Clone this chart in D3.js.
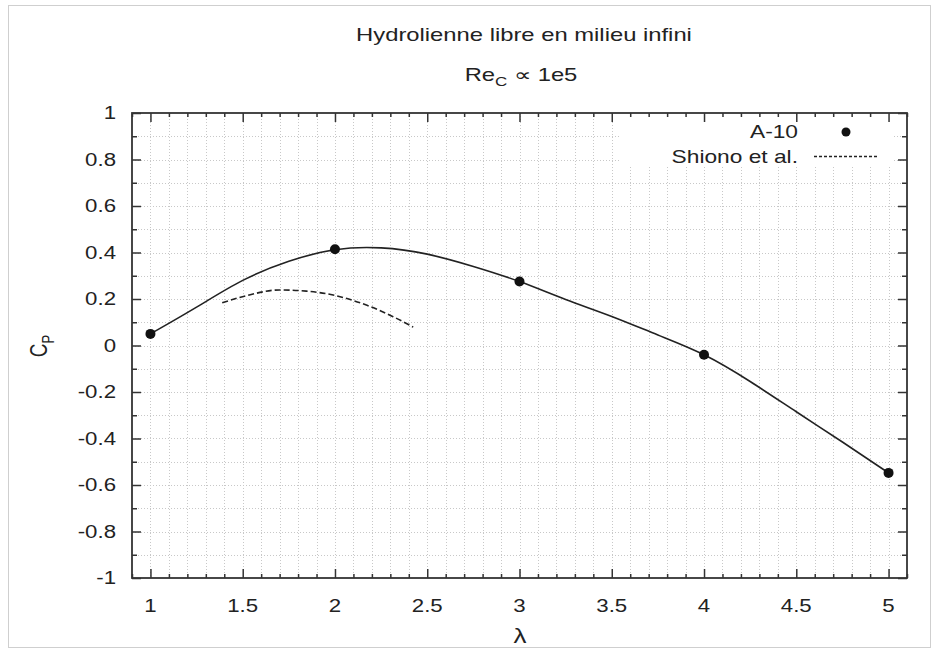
<!DOCTYPE html>
<html><head><meta charset="utf-8">
<script src="https://cdn.jsdelivr.net/npm/d3@7"></script>
<style>body{margin:0;background:#fff}svg text{font-family:"Liberation Sans",Arial,sans-serif;fill:#222}</style>
</head><body>
<script>
// ---- data ----
const titleText = "Hydrolienne libre en milieu infini";
const seriesNames = ["A-10", "Shiono et al."];
const a10PointsX = [1, 2, 3, 4, 5];
const a10PointsY = [0.05, 0.414, 0.275, -0.04, -0.548];
const a10CurveX = [1.0, 1.25, 1.5, 1.75, 2.0, 2.25, 2.5, 2.75, 3.0, 3.25, 3.5, 3.75, 4.0, 4.25, 4.5, 4.75, 5.0];
const a10CurveY = [0.05, 0.165, 0.28, 0.362, 0.412, 0.42, 0.393, 0.34, 0.275, 0.198, 0.125, 0.045, -0.04, -0.155, -0.285, -0.415, -0.548];
const shionoX = [1.389, 1.519, 1.70, 1.845, 1.99, 2.17, 2.315, 2.424];
const shionoY = [0.184, 0.214, 0.239, 0.234, 0.217, 0.174, 0.124, 0.079];
const xTickLabels = ["1", "1.5", "2", "2.5", "3", "3.5", "4", "4.5", "5"];
const yTickLabels = ["-1", "-0.8", "-0.6", "-0.4", "-0.2", "0", "0.2", "0.4", "0.6", "0.8", "1"];

const W = 938, H = 653;
const L = 132, R = 907, T = 113, B = 578;
const svg = d3.select("body").append("svg").attr("width", W).attr("height", H);

function txt(parent, px, py, str, size, anchor, sx) {
  return parent.append("text")
    .attr("transform", `translate(${px},${py}) scale(${sx},1)`)
    .attr("text-anchor", anchor).attr("font-size", size).text(str);
}

// outer frame
svg.append("rect").attr("x", 8.5).attr("y", 5.5).attr("width", 922).attr("height", 642)
  .attr("fill", "#fff").attr("stroke", "#cfcfcf").attr("stroke-width", 1);

const x = d3.scaleLinear().domain([0.9, 5.1]).range([L, R]);
const y = d3.scaleLinear().domain([-1, 1]).range([B, T]);

const minorX = d3.range(9, 52).map(v => v / 10);
const minorY = d3.range(-10, 11).map(v => v / 10);
const majorX = xTickLabels.map(Number);
const majorY = yTickLabels.map(Number);

// grid
const grid = svg.append("g").attr("stroke", "#c8c8c8").attr("stroke-width", 1).attr("stroke-dasharray", "1,2");
minorX.filter(v => v > 0.95 && v < 5.05).forEach(v => {
  grid.append("line").attr("x1", Math.round(x(v)) + 0.5).attr("x2", Math.round(x(v)) + 0.5).attr("y1", T).attr("y2", B);
});
minorY.filter(v => v > -0.95 && v < 0.95).forEach(v => {
  grid.append("line").attr("y1", Math.round(y(v)) + 0.5).attr("y2", Math.round(y(v)) + 0.5).attr("x1", L).attr("x2", R);
});

// legend background
svg.append("rect").attr("x", 620).attr("y", T + 1).attr("width", 273).attr("height", 53).attr("fill", "#fff");

// axes via d3 axis (ticks inward)
function isMajor(v, arr) { return arr.some(m => Math.abs(m - v) < 1e-6); }
const gB = svg.append("g").attr("transform", `translate(0,${B})`)
  .call(d3.axisBottom(x).tickValues(minorX).tickSizeInner(0).tickSizeOuter(0).tickFormat(""));
const gT = svg.append("g").attr("transform", `translate(0,${T})`)
  .call(d3.axisTop(x).tickValues(minorX).tickSizeInner(0).tickSizeOuter(0).tickFormat(""));
const gL = svg.append("g").attr("transform", `translate(${L},0)`)
  .call(d3.axisLeft(y).tickValues(minorY).tickSizeInner(0).tickSizeOuter(0).tickFormat(""));
const gR = svg.append("g").attr("transform", `translate(${R},0)`)
  .call(d3.axisRight(y).tickValues(minorY).tickSizeInner(0).tickSizeOuter(0).tickFormat(""));
[gB, gT, gL, gR].forEach(g => g.select(".domain").remove());
gB.selectAll(".tick line").attr("y2", d => -(isMajor(d, majorX) ? 9 : 4)).attr("stroke", "#333").attr("stroke-width", 1.5);
gT.selectAll(".tick line").attr("y2", d => (isMajor(d, majorX) ? 9 : 4)).attr("stroke", "#333").attr("stroke-width", 1.5);
gL.selectAll(".tick line").attr("x2", d => (isMajor(d, majorY) ? 9 : 5)).attr("stroke", "#333").attr("stroke-width", 1.5);
gR.selectAll(".tick line").attr("x2", d => -(isMajor(d, majorY) ? 9 : 5)).attr("stroke", "#333").attr("stroke-width", 1.5);

// tick labels
const gxl = svg.append("g");
xTickLabels.forEach(d => txt(gxl, x(+d), 612, d, 17.5, "middle", 1.27));
const gyl = svg.append("g");
yTickLabels.forEach(d => txt(gyl, 116, y(+d) + 6, d, 17.5, "end", 1.27));

// plot frame
svg.append("rect").attr("x", L).attr("y", T).attr("width", R - L).attr("height", B - T)
  .attr("fill", "none").attr("stroke", "#333").attr("stroke-width", 1.8);

// curves
const lineA = d3.line().x(d => x(d[0])).y(d => y(d[1])).curve(d3.curveNatural);
const lineS = d3.line().x(d => x(d[0])).y(d => y(d[1])).curve(d3.curveMonotoneX);
svg.append("path").datum(d3.zip(a10CurveX, a10CurveY)).attr("d", lineA)
  .attr("fill", "none").attr("stroke", "#222").attr("stroke-width", 1.6);
svg.append("path").datum(d3.zip(shionoX, shionoY)).attr("d", lineS)
  .attr("fill", "none").attr("stroke", "#222").attr("stroke-width", 1.6).attr("stroke-dasharray", "6,3");
svg.append("g").selectAll("circle").data(d3.zip(a10PointsX, a10PointsY)).join("circle")
  .attr("cx", d => x(d[0])).attr("cy", d => y(d[1])).attr("r", 5).attr("fill", "#111");

// legend
txt(svg, 798, 138, seriesNames[0], 17.5, "end", 1.3);
svg.append("circle").attr("cx", 846).attr("cy", 132).attr("r", 4.5).attr("fill", "#111");
txt(svg, 798, 163, seriesNames[1], 17.5, "end", 1.3);
svg.append("line").attr("x1", 814).attr("x2", 878).attr("y1", 156.5).attr("y2", 156.5)
  .attr("stroke", "#222").attr("stroke-width", 1.3).attr("stroke-dasharray", "3,2");

// titles
txt(svg, 524, 41, titleText, 17.5, "middle", 1.36);
const sub = txt(svg, 521, 81, "", 17.5, "middle", 1.36);
sub.append("tspan").text("Re");
sub.append("tspan").attr("font-size", 12.5).attr("dy", 5).text("C");
sub.append("tspan").attr("dy", -5).text(" \u221D 1e5");

// axis titles
txt(svg, 520, 643, "\u03BB", 20, "middle", 1.3);
const yl = svg.append("text").attr("transform", "translate(47,346) rotate(-90) scale(1,1.3)")
  .attr("text-anchor", "middle").attr("font-size", 19);
yl.append("tspan").text("C");
yl.append("tspan").attr("font-size", 13).attr("dy", 5).text("P");
</script>
</body></html>
